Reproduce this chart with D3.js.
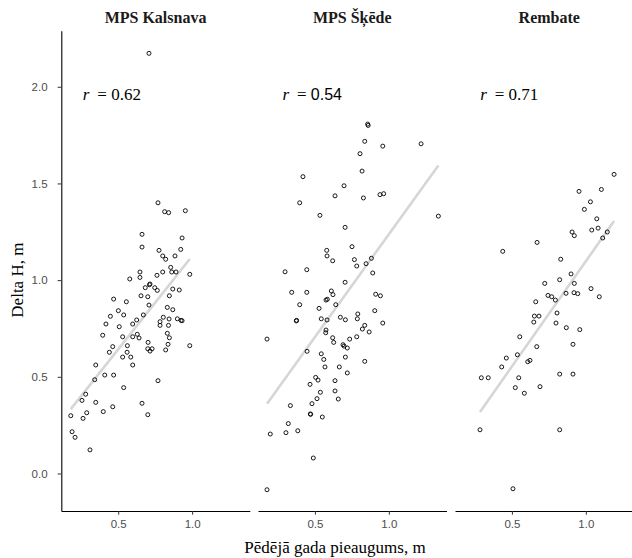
<!DOCTYPE html>
<html>
<head>
<meta charset="utf-8">
<script src="https://cdn.jsdelivr.net/npm/d3@7"></script>
<style>
    body { margin: 0; background: #fff; }
    svg { display: block; }
</style>
</head>
<body>
<div id="chart"></div>
<script>
// Panel titles and correlation labels
const panels = ["MPS Kalsnava", "MPS Šķēde", "Rembate"];
const rValues = ["0.62", "0.54", "0.71"];
const rLabelX = [0.26, 0.28, 0.285];
const xTicks = [0.5, 1.0];
const yTicks = [0.0, 0.5, 1.0, 1.5, 2.0];

// [last year growth, delta H]
const kalsnava = [
    [0.708, 2.173], [0.769, 1.400], [0.814, 1.354], [0.841, 1.349], [0.954, 1.359],
    [0.661, 1.237], [0.932, 1.218], [0.661, 1.171], [0.776, 1.154], [0.923, 1.159],
    [0.801, 1.125], [0.884, 1.125], [0.821, 1.108], [0.855, 1.066], [0.801, 1.042],
    [0.862, 1.042], [0.891, 1.042], [0.762, 1.025], [0.647, 1.042], [0.647, 1.014],
    [0.578, 1.006], [0.984, 1.030], [0.715, 0.980], [0.711, 0.976], [0.683, 0.961],
    [0.747, 0.961], [0.764, 0.947], [0.869, 0.954], [0.913, 0.949], [0.654, 0.919],
    [0.700, 0.914], [0.846, 0.919], [0.469, 0.902], [0.555, 0.888], [0.708, 0.871],
    [0.832, 0.859], [0.869, 0.847], [0.501, 0.842], [0.537, 0.820], [0.447, 0.813],
    [0.670, 0.820], [0.805, 0.808], [0.844, 0.799], [0.900, 0.800], [0.925, 0.792],
    [0.932, 0.790], [0.783, 0.785], [0.625, 0.794], [0.598, 0.773], [0.417, 0.773],
    [0.507, 0.759], [0.783, 0.766], [0.840, 0.766], [0.395, 0.715], [0.530, 0.707],
    [0.598, 0.707], [0.629, 0.720], [0.641, 0.701], [0.832, 0.725], [0.846, 0.702],
    [0.702, 0.678], [0.562, 0.661], [0.463, 0.656], [0.440, 0.627], [0.837, 0.668],
    [0.700, 0.645], [0.729, 0.645], [0.715, 0.633], [0.821, 0.639], [0.984, 0.661],
    [0.560, 0.627], [0.530, 0.602], [0.585, 0.602], [0.598, 0.561], [0.348, 0.561],
    [0.341, 0.485], [0.409, 0.509], [0.469, 0.509], [0.537, 0.444], [0.769, 0.480],
    [0.280, 0.410], [0.255, 0.378], [0.348, 0.368], [0.463, 0.345], [0.399, 0.320],
    [0.287, 0.314], [0.262, 0.285], [0.661, 0.363], [0.700, 0.304], [0.179, 0.299],
    [0.188, 0.216], [0.208, 0.187], [0.309, 0.122]
];

const skede = [
    [0.857, 1.807], [0.860, 1.800], [0.837, 1.718], [0.959, 1.693], [1.218, 1.705],
    [0.805, 1.654], [0.819, 1.564], [0.419, 1.535], [0.697, 1.488], [0.636, 1.436],
    [0.828, 1.425], [0.940, 1.442], [0.965, 1.447], [0.397, 1.400], [1.335, 1.331],
    [0.534, 1.335], [0.704, 1.273], [0.751, 1.173], [0.580, 1.154], [0.582, 1.125],
    [0.620, 1.100], [0.767, 1.106], [0.783, 1.073], [0.846, 1.085], [0.882, 1.113],
    [0.891, 1.037], [0.298, 1.043], [0.445, 1.054], [0.704, 0.989], [0.343, 0.937],
    [0.445, 0.937], [0.611, 0.944], [0.622, 0.925], [0.575, 0.897], [0.584, 0.901],
    [0.911, 0.927], [0.943, 0.919], [0.397, 0.873], [0.641, 0.873], [0.528, 0.854],
    [0.905, 0.842], [0.374, 0.789], [0.376, 0.792], [0.543, 0.800], [0.582, 0.794],
    [0.672, 0.808], [0.706, 0.795], [0.790, 0.825], [0.787, 0.800], [0.837, 0.766],
    [0.821, 0.747], [0.867, 0.732], [0.959, 0.778], [0.575, 0.742], [0.573, 0.728],
    [0.176, 0.695], [0.620, 0.702], [0.627, 0.678], [0.735, 0.695], [0.783, 0.707],
    [0.690, 0.666], [0.697, 0.659], [0.719, 0.649], [0.447, 0.632], [0.543, 0.619],
    [0.560, 0.590], [0.706, 0.602], [0.837, 0.580], [0.568, 0.551], [0.665, 0.551],
    [0.719, 0.520], [0.505, 0.497], [0.521, 0.483], [0.467, 0.461], [0.636, 0.480],
    [0.537, 0.420], [0.636, 0.427], [0.514, 0.387], [0.658, 0.385], [0.480, 0.361],
    [0.334, 0.351], [0.469, 0.308], [0.471, 0.306], [0.550, 0.292], [0.320, 0.258],
    [0.304, 0.211], [0.384, 0.221], [0.198, 0.204], [0.489, 0.080], [0.176, -0.084]
];

const rembate = [
    [1.191, 1.547], [0.954, 1.459], [1.105, 1.469], [1.031, 1.405], [0.990, 1.366],
    [1.074, 1.317], [1.040, 1.259], [1.083, 1.269], [0.907, 1.249], [0.922, 1.230],
    [1.145, 1.249], [1.114, 1.218], [0.670, 1.195], [0.438, 1.149], [0.830, 1.108],
    [0.900, 1.032], [0.823, 1.002], [0.722, 0.983], [0.922, 0.983], [1.035, 0.956],
    [0.744, 0.921], [0.769, 0.914], [0.794, 0.897], [0.866, 0.932], [0.920, 0.935],
    [0.945, 0.930], [1.091, 0.914], [0.661, 0.888], [0.652, 0.814], [0.683, 0.814],
    [0.648, 0.783], [0.805, 0.830], [0.798, 0.778], [0.868, 0.754], [0.959, 0.744],
    [0.553, 0.707], [0.913, 0.668], [0.668, 0.656], [0.537, 0.614], [0.462, 0.597],
    [0.607, 0.578], [0.622, 0.585], [0.431, 0.551], [0.293, 0.495], [0.340, 0.495],
    [0.546, 0.495], [0.823, 0.514], [0.913, 0.514], [0.523, 0.444], [0.690, 0.449],
    [0.584, 0.415], [0.284, 0.226], [0.823, 0.226], [0.507, -0.079]
];

const panelData = [kalsnava, skede, rembate];

const serif = "'Liberation Serif', 'Times New Roman', Times, serif";
const sans = "'Liberation Sans', Arial, Helvetica, sans-serif";

// least squares fit, drawn over the data range like geom_smooth(method = "lm")
const fitLine = (pts) => {
    const mx = d3.mean(pts, d => d[0]), my = d3.mean(pts, d => d[1]);
    const sxy = d3.sum(pts, d => (d[0] - mx) * (d[1] - my));
    const sxx = d3.sum(pts, d => (d[0] - mx) ** 2);
    const b = sxy / sxx, a = my - b * mx;
    const [x0, x1] = d3.extent(pts, d => d[0]);
    return [[x0, a + b * x0], [x1, a + b * x1]];
};

const styleAxis = a => a
    .call(a => a.select(".domain").attr("stroke", "#000").attr("stroke-width", 1.1))
    .call(a => a.selectAll(".tick line").attr("stroke", "#333"))
    .call(a => a.selectAll(".tick text")
        .attr("fill", "#4d4d4d")
        .attr("font-family", sans)
        .attr("font-size", 11.5));

const drawChart = () => {
    const width = 632, height = 558;
    const panelLeft = [61.3, 258, 455];
    const panelWidth = 188.5;
    const top = 30.7, bottom = 511;

    const svg = d3.select("#chart")
        .append("svg")
        .attr("width", width)
        .attr("height", height)
        .attr("viewBox", [0, 0, width, height]);

    const x = d3.scaleLinear().domain([0.115, 1.39]).range([0, panelWidth]);
    const y = d3.scaleLinear().domain([-0.194, 2.29]).range([bottom, top]);

    panels.forEach((name, i) => {
        const g = svg.append("g")
            .attr("transform", `translate(${panelLeft[i]},0)`);

        // title
        g.append("text")
            .attr("x", panelWidth / 2)
            .attr("y", 23)
            .attr("text-anchor", "middle")
            .attr("font-family", serif)
            .attr("font-weight", "bold")
            .attr("font-size", 16)
            .attr("fill", "#1a1a1a")
            .text(name);

        // regression line
        const fit = fitLine(panelData[i]);
        g.append("line")
            .attr("x1", x(fit[0][0])).attr("y1", y(fit[0][1]))
            .attr("x2", x(fit[1][0])).attr("y2", y(fit[1][1]))
            .attr("stroke", "#d6d6d6")
            .attr("stroke-width", 2.6);

        // points
        g.append("g")
            .selectAll("circle")
            .data(panelData[i])
            .join("circle")
            .attr("cx", d => x(d[0]))
            .attr("cy", d => y(d[1]))
            .attr("r", 2)
            .attr("fill", "none")
            .attr("stroke", "#000")
            .attr("stroke-width", 0.9);

        // r label
        const lab = g.append("text")
            .attr("x", x(rLabelX[i]))
            .attr("y", y(1.93))
            .attr("font-family", serif)
            .attr("font-size", 17)
            .attr("fill", "#000");
        lab.append("tspan").attr("font-family", serif).attr("font-style", "italic").text("r");
        lab.append("tspan").attr("font-family", serif).attr("dx", 8).text("= ");
        lab.append("tspan")
            .attr("font-family", i === 1 ? sans : serif)
            .attr("font-size", i === 1 ? 16 : 17)
            .text(rValues[i]);

        // x axis
        g.append("g")
            .attr("transform", `translate(0,${bottom})`)
            .call(d3.axisBottom(x).tickValues(xTicks).tickFormat(d3.format(".1f"))
                .tickSize(3.7).tickSizeOuter(0).tickPadding(5))
            .call(styleAxis);
    });

    // y axis only on the first panel
    svg.append("g")
        .attr("transform", `translate(${panelLeft[0]},0)`)
        .call(d3.axisLeft(y).tickValues(yTicks).tickFormat(d3.format(".1f"))
            .tickSize(3.7).tickSizeOuter(0).tickPadding(10))
        .call(styleAxis);

    // axis titles
    svg.append("text")
        .attr("x", 335)
        .attr("y", 553)
        .attr("text-anchor", "middle")
        .attr("font-family", serif)
        .attr("font-size", 17)
        .text("Pēdējā gada pieaugums, m");

    svg.append("text")
        .attr("transform", `translate(23,${y(1.0)}) rotate(-90)`)
        .attr("text-anchor", "middle")
        .attr("font-family", serif)
        .attr("font-size", 17)
        .text("Delta H, m");
};

drawChart();
</script>
</body>
</html>
